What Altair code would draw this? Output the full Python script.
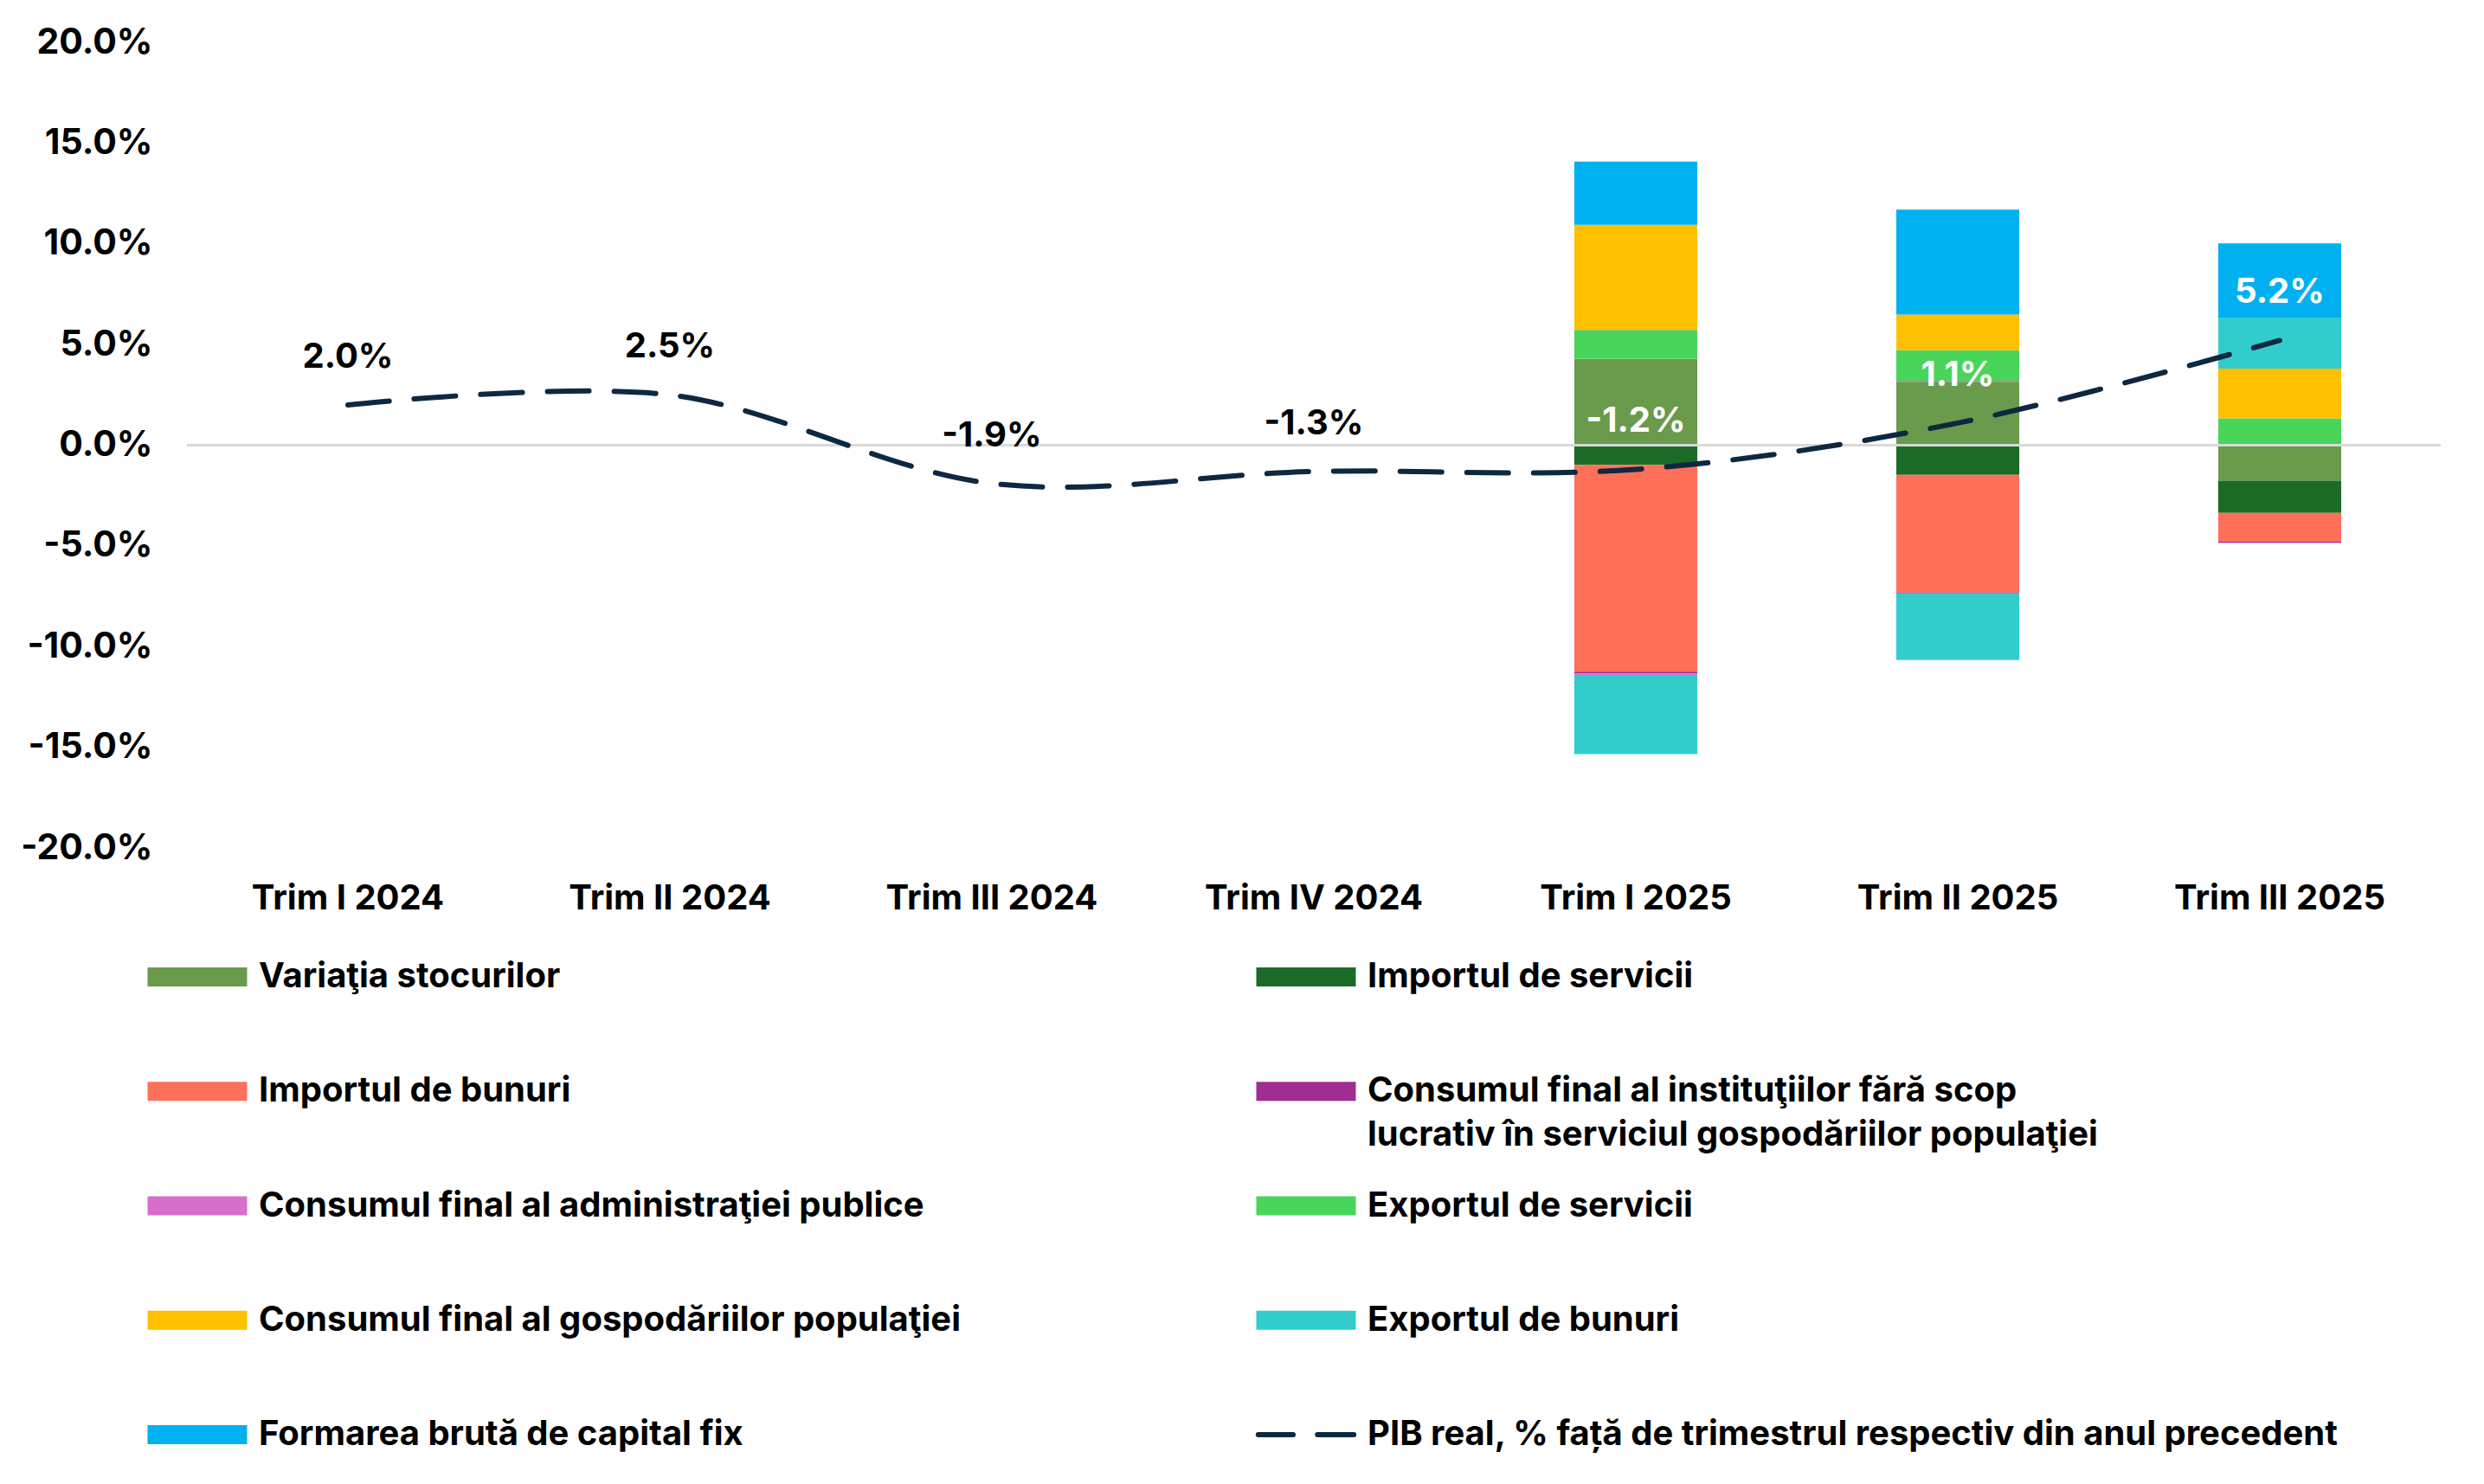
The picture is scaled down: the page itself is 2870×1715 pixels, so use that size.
import altair as alt
import pandas as pd

# ---------------- data ----------------
quarters = ["Trim I 2024", "Trim II 2024", "Trim III 2024", "Trim IV 2024",
            "Trim I 2025", "Trim II 2025", "Trim III 2025"]
pib_real = [2.0, 2.5, -1.9, -1.3, -1.2, 1.1, 5.2]

bar_quarters = ["Trim I 2025", "Trim II 2025", "Trim III 2025"]

series = [
    "Variaţia stocurilor",
    "Importul de servicii",
    "Importul de bunuri",
    "Consumul final al instituţiilor fără scop lucrativ în serviciul gospodăriilor populaţiei",
    "Consumul final al administraţiei publice",
    "Exportul de servicii",
    "Consumul final al gospodăriilor populaţiei",
    "Exportul de bunuri",
    "Formarea brută de capital fix",
]
legend_labels = [
    "Variaţia stocurilor",
    "Importul de servicii",
    "Importul de bunuri",
    "Consumul final al instituţiilor fără scop\nlucrativ în serviciul gospodăriilor populaţiei",
    "Consumul final al administraţiei publice",
    "Exportul de servicii",
    "Consumul final al gospodăriilor populaţiei",
    "Exportul de bunuri",
    "Formarea brută de capital fix",
]
variatia_stocurilor = [4.29, 3.15, -1.76]
importul_servicii = [-0.98, -1.47, -1.60]
importul_bunuri = [-10.27, -5.85, -1.43]
consum_isflsh = [-0.08, -0.04, -0.04]
consum_admin = [-0.08, 0.05, -0.02]
exportul_servicii = [1.43, 1.51, 1.33]
consum_gospodarii = [5.23, 1.78, 2.47]
exportul_bunuri = [-3.93, -3.31, 2.54]
fbcf = [3.13, 5.21, 3.68]

series_values = [variatia_stocurilor, importul_servicii, importul_bunuri,
                 consum_isflsh, consum_admin, exportul_servicii,
                 consum_gospodarii, exportul_bunuri, fbcf]

colors = ["#6A9A4C", "#1B6B27", "#FF705A", "#A02D91", "#D86ECC",
          "#48D55A", "#FFC000", "#33CCCC", "#00B0F0"]

line_name = "PIB real, % față de trimestrul respectiv din anul precedent"
line_color = "#0E2841"

y_ticks = [-20, -15, -10, -5, 0, 5, 10, 15, 20]

# ---------------- tables ----------------
bar_rows = []
for i, (s, vals) in enumerate(zip(series, series_values)):
    for q, v in zip(bar_quarters, vals):
        bar_rows.append({"quarter": q, "series": s, "ord": i, "value": v})
bars_df = pd.DataFrame(bar_rows)

line_df = pd.DataFrame({
    "quarter": quarters,
    "pib": pib_real,
    "on_bar": [q in bar_quarters for q in quarters],
})

leg_names = series + [line_name]
leg_text = legend_labels + [line_name]
leg_rows = []
for i, (n, t) in enumerate(zip(leg_names, leg_text)):
    parts = t.split("\n")
    leg_rows.append({
        "name": n,
        "line1": parts[0],
        "line2": parts[1] if len(parts) > 1 else "",
        "row": i // 2,
        "col": i % 2,
        "kind": "line" if n == line_name else "bar",
    })
leg_df = pd.DataFrame(leg_rows)

# ---------------- main chart ----------------
FONT = "Inter"
FMT = "replace(format({v}, '.1f'), '\u2212', '-') + '%'"

x_enc = alt.X("quarter:N", sort=quarters,
              scale=alt.Scale(domain=quarters, paddingInner=0.618, paddingOuter=0.309),
              axis=alt.Axis(title=None, labelAngle=0, labelFont=FONT, labelFontSize=40,
                            labelFontWeight="bold", labelColor="#000000", labelPadding=38,
                            labelLimit=0, domain=False, ticks=False, grid=False))
y_scale = alt.Scale(domain=[-20, 20], nice=False, zero=False)

bars = alt.Chart(bars_df).mark_bar().encode(
    x=x_enc,
    y=alt.Y("value:Q", stack="zero", scale=y_scale,
            axis=alt.Axis(title=None, values=y_ticks,
                          labelExpr=FMT.format(v="datum.value"),
                          labelFont=FONT, labelFontSize=41, labelFontWeight="bold",
                          labelColor="#000000", labelPadding=40, labelLimit=0,
                          domain=False, ticks=False, grid=False)),
    color=alt.Color("series:N", scale=alt.Scale(domain=series, range=colors), legend=None),
    order=alt.Order("ord:Q", sort="ascending"),
)

zero_rule = alt.Chart(pd.DataFrame({"z": [0]})).mark_rule(
    color="#D9D9D9", strokeWidth=3
).encode(y=alt.Y("z:Q", scale=y_scale))

line = alt.Chart(line_df).mark_line(
    color=line_color, strokeWidth=6, strokeDash=[48, 29], strokeCap="round",
    interpolate="catmull-rom"
).encode(
    x=alt.X("quarter:N", sort=quarters),
    y=alt.Y("pib:Q", scale=y_scale),
)

labels = alt.Chart(line_df).transform_calculate(
    lab=FMT.format(v="datum.pib")
).mark_text(
    font=FONT, fontSize=40, fontWeight="bold", dy=-55, baseline="middle"
).encode(
    x=alt.X("quarter:N", sort=quarters),
    y=alt.Y("pib:Q", scale=y_scale),
    text="lab:N",
    color=alt.condition("datum.on_bar", alt.value("#FFFFFF"), alt.value("#000000")),
)

main = alt.layer(bars, zero_rule, line, labels)

# ---------------- legend (drawn as its own layer) ----------------
lx = alt.X("col:Q", scale=alt.Scale(domain=[0, 1], range=[12, 1293]), axis=None)
ly = alt.Y("row:Q", scale=alt.Scale(domain=[0, 4], range=[1080, 1609]), axis=None)
leg_color = alt.Color("name:N", scale=alt.Scale(domain=leg_names, range=colors + [line_color]),
                      legend=None)

RECT = "M-1,-0.19H1V0.19H-1Z"
DASH = "M-0.96,0H-0.26M0.23,0H0.96"

leg_sym = alt.Chart(leg_df).transform_filter("datum.kind == 'bar'").mark_point(
    shape=RECT, size=13225, filled=True, opacity=1, strokeWidth=0
).encode(x=lx, y=ly, color=leg_color)

leg_line = alt.Chart(leg_df).transform_filter("datum.kind == 'line'").mark_point(
    shape=DASH, size=13225, filled=False, opacity=1, strokeWidth=6, strokeCap="round"
).encode(x=lx, y=ly, color=leg_color)

LFONT = dict(align="left", baseline="middle", dx=71, font=FONT, fontSize=40,
             fontWeight="bold", color="#000000")

leg_t1 = alt.Chart(leg_df).mark_text(**LFONT).encode(x=lx, y=ly, text="line1:N")

leg_t2 = alt.Chart(leg_df).transform_filter("datum.line2 != ''").mark_text(
    dy=51, **LFONT
).encode(x=lx, y=ly, text="line2:N")

legend = alt.layer(leg_sym, leg_line, leg_t1, leg_t2)

chart = alt.layer(main, legend).resolve_scale(
    x="independent", y="independent", color="independent"
).properties(
    width=2604, height=931,
    padding={"left": 15, "top": 20, "right": 5, "bottom": 5},
).configure(
    background="#FFFFFF",
    view=alt.ViewConfig(stroke="transparent", strokeWidth=0),
    style={"cell": {"stroke": "transparent", "strokeWidth": 0}},
)

chart.save("out.html", embed_options={"renderer": "svg", "actions": False})
